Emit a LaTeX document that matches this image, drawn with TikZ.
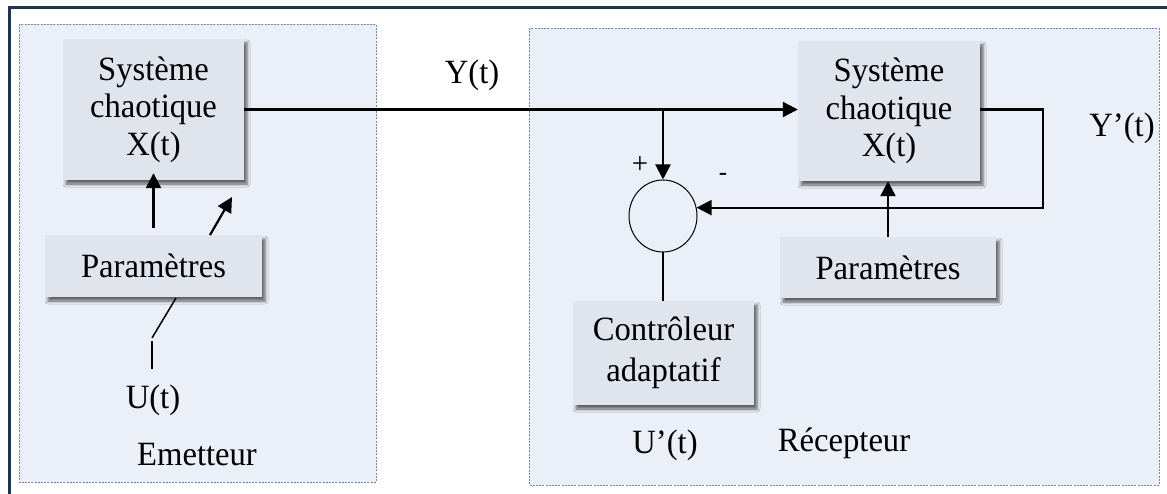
\documentclass[tikz,border=0pt]{standalone}
\usepackage{fontspec}
\setmainfont{Liberation Serif}[FakeStretch=0.96]
\usetikzlibrary{shapes.geometric,arrows.meta,shadows.blur,calc}
\definecolor{frameblue}{HTML}{1F3550}
\definecolor{panelfill}{HTML}{EBF0F8}
\definecolor{paneledge}{HTML}{6F88AA}
\definecolor{boxfill}{HTML}{E0E4EC}
\tikzset{
 panel/.style={fill=panelfill, draw=paneledge, line width=0.9pt, dash pattern=on 2pt off 1.2pt},
 block/.style={fill=boxfill, inner sep=0pt, align=center, font=\fontsize{34}{37.5}\selectfont,
   blur shadow={shadow xshift=3pt, shadow yshift=-4pt, shadow blur radius=3pt, shadow opacity=60}},
 lbl/.style={font=\fontsize{34}{37.5}\selectfont, inner sep=0pt},
 arr/.style={line width=2.2pt, -{Triangle[length=15pt,width=15pt]}},
 wire/.style={line width=1.5pt},
}
\begin{document}
\begin{tikzpicture}[x=1pt,y=-1pt]
\useasboundingbox (0,0) rectangle (1167,494);
\fill[white] (0,0) rectangle (1167,494);
\draw[frameblue, line width=3pt] (9.5,494) -- (9.5,7.5) -- (1167,7.5);
% panels
\draw[panel] (19,24) rectangle (376,482);
\draw[panel] (529,28) rectangle (1159,485);
% blocks
\node[block, minimum width=181pt, minimum height=141pt] (sysE) at (153.5,109.5) {Système\\chaotique\\X(t)};
\node[block, minimum width=217pt, minimum height=62pt] (parE) at (153.5,266) {Paramètres};
\node[block, minimum width=182pt, minimum height=140pt] (sysR) at (889,111) {Système\\chaotique\\X(t)};
\node[block, minimum width=216pt, minimum height=61pt] (parR) at (888,267.5) {Paramètres};
\node[block, minimum width=181pt, minimum height=104pt, font=\fontsize{34}{41}\selectfont] (ctrl) at (663.5,353) {Contrôleur\\adaptatif};
\node[ellipse, draw, line width=1pt, minimum width=68pt, minimum height=72pt, inner sep=0pt] (sum) at (663,216) {};
% connectors receiver side
\coordinate (br) at (663,109.5);
\draw[arr] (sysE.east) -- (sysE.east -| sysR.west);
\draw[arr] (br) -- (sum.north);
\draw[arr] (sysR.east |- br) -- ++(63,0) |- (sum.14);
\draw[arr] (parR.north) -- (parR.north |- sysR.south);
\draw[wire] (sum.south) -- (sum.south |- ctrl.north);
% emitter side
\draw[arr] ([yshift=7pt]parE.north) -- ([yshift=7pt]parE.north |- sysE.south);
\coordinate (d1) at (210,235);
\coordinate (d2) at (232,197);
\draw[arr] (d1) -- (d2);
\coordinate (e1) at (176,298);
\coordinate (e2) at (152,338);
\coordinate (e3) at (152,341);
\coordinate (e4) at (152,369);
\draw[wire] (e1) -- (e2);
\draw[wire] (e3) -- (e4);
% labels
\node[lbl] (yt) at (472,75) {Y(t)};
\node[lbl] (ypt) at (1122,128) {Y’(t)};
\node[lbl] (ut) at (153,400) {U(t)};
\node[lbl] (emet) at (197,455) {Emetteur};
\node[lbl] (upt) at (665,445) {U’(t)};
\node[lbl] (recep) at (844,443) {Récepteur};
\node[font=\fontsize{30}{32}\selectfont, inner sep=0pt] (plus) at (640,165) {+};
\node[font=\fontsize{26}{28}\selectfont, inner sep=0pt] (minus) at (723,177) {-};
\end{tikzpicture}
\end{document}
